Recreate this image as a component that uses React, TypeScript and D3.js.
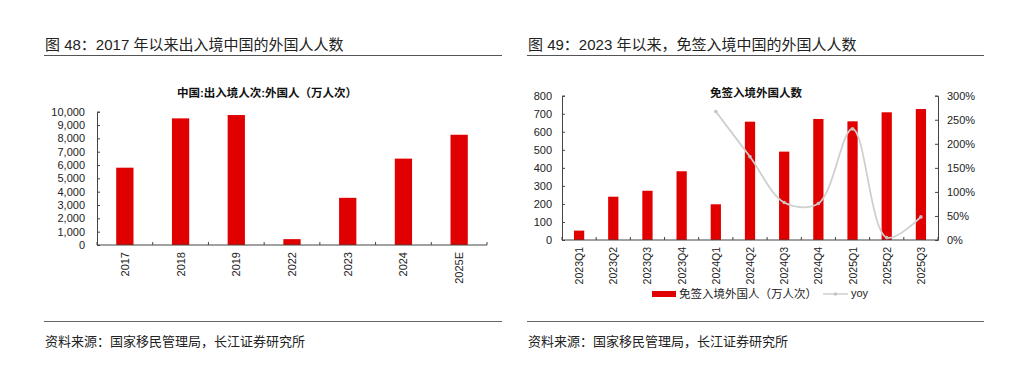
import React, { useEffect, useRef } from 'react';
import * as d3 from 'd3';

// left chart: yearly foreign entries/exits (10k person-times)
const yearCats = ['2017', '2018', '2019', '2022', '2023', '2024', '2025E'];
const yearValues = [5800, 9500, 9750, 440, 3540, 6480, 8270];
const leftTicks = [0, 1000, 2000, 3000, 4000, 5000, 6000, 7000, 8000, 9000, 10000];

// right chart: visa-free entries by quarter + yoy
const quarterCats = ['2023Q1', '2023Q2', '2023Q3', '2023Q4', '2024Q1', '2024Q2', '2024Q3', '2024Q4', '2025Q1', '2025Q2', '2025Q3'];
const quarterValues = [52, 240, 273, 381, 198, 656, 490, 671, 658, 708, 726];
const yoyValues = [null, null, null, null, 2.67, 1.73, 0.78, 0.76, 2.31, 0.05, 0.48];
const rightTicks = [0, 100, 200, 300, 400, 500, 600, 700, 800];
const pctTicks = [0, 0.5, 1, 1.5, 2, 2.5, 3];

const FONT = '"Liberation Sans", Arial, "Noto Sans CJK SC", sans-serif';
const RED = '#e00000';
const TEXT = '#222';

function App() {
  const ref = useRef<SVGSVGElement>(null);

  useEffect(() => {
    const svg = d3.select(ref.current);
    svg.selectAll('*').remove();
    svg.style('font-family', FONT);

    // ---- headers / footers for both panels
    const panels = [
      { x0: 44, x1: 502, title: '图 48：2017 年以来出入境中国的外国人人数' },
      { x0: 527, x1: 984, title: '图 49：2023 年以来，免签入境中国的外国人人数' },
    ];
    panels.forEach(p => {
      svg.append('text').attr('x', p.x0 + 1).attr('y', 50)
        .attr('font-size', 15).attr('fill', TEXT).text(p.title);
      svg.append('line').attr('x1', p.x0).attr('x2', p.x1).attr('y1', 55.5).attr('y2', 55.5)
        .attr('stroke', '#555').attr('stroke-width', 1.2);
      svg.append('line').attr('x1', p.x0).attr('x2', p.x1).attr('y1', 321.5).attr('y2', 321.5)
        .attr('stroke', '#666').attr('stroke-width', 1);
      svg.append('text').attr('x', p.x0 + 1).attr('y', 346)
        .attr('font-size', 13).attr('fill', TEXT).text('资料来源：国家移民管理局，长江证券研究所');
    });

    // ---- left chart
    {
      const x = d3.scaleBand().domain(yearCats).range([97, 487]).paddingInner(0.69).paddingOuter(0.345);
      const y = d3.scaleLinear().domain([0, 10000]).range([245, 111.7]);
      const g = svg.append('g');

      g.append('text').attr('x', 267).attr('y', 97).attr('text-anchor', 'middle')
        .attr('font-size', 11.5).attr('font-weight', 'bold').attr('fill', '#111')
        .text('中国:出入境人次:外国人（万人次）');

      g.selectAll('rect.bar').data(yearValues).enter().append('rect')
        .attr('x', (d, i) => x(yearCats[i])!)
        .attr('y', d => y(d))
        .attr('width', x.bandwidth())
        .attr('height', d => y(0) - y(d))
        .attr('fill', RED);

      const ya = g.append('g').attr('transform', 'translate(97,0)')
        .call(d3.axisRight(y).tickValues(leftTicks).tickSize(3).tickFormat(d3.format(',')));
      ya.selectAll('text').attr('x', -12).attr('text-anchor', 'end')
        .attr('font-size', 11).attr('fill', TEXT).attr('font-family', FONT);
      ya.selectAll('line,path').attr('stroke', '#444');

      // x axis line with ticks at band boundaries pointing up
      const step = x.step();
      g.append('line').attr('x1', 97).attr('x2', 487).attr('y1', 245).attr('y2', 245).attr('stroke', '#444');
      d3.range(yearCats.length + 1).forEach(i => {
        const tx = 97 + i * step;
        g.append('line').attr('x1', tx).attr('x2', tx).attr('y1', 245).attr('y2', 242).attr('stroke', '#444');
      });
      yearCats.forEach(c => {
        const cx = x(c)! + x.bandwidth() / 2;
        g.append('text').attr('transform', `translate(${cx + 4},252) rotate(-90)`)
          .attr('text-anchor', 'end').attr('font-size', 11).attr('fill', TEXT).text(c);
      });
    }

    // ---- right chart
    {
      const L = 562, R = 938;
      const x = d3.scaleBand().domain(quarterCats).range([L, R]).paddingInner(0.7).paddingOuter(0.35);
      const y = d3.scaleLinear().domain([0, 800]).range([240, 95.7]);
      const y2 = d3.scaleLinear().domain([0, 3]).range([240, 95.7]);
      const g = svg.append('g');

      g.append('text').attr('x', 756).attr('y', 97).attr('text-anchor', 'middle')
        .attr('font-size', 11.5).attr('font-weight', 'bold').attr('fill', '#111')
        .text('免签入境外国人数');

      g.selectAll('rect.bar').data(quarterValues).enter().append('rect')
        .attr('x', (d, i) => x(quarterCats[i])!)
        .attr('y', d => y(d))
        .attr('width', x.bandwidth())
        .attr('height', d => y(0) - y(d))
        .attr('fill', RED);

      const ya = g.append('g').attr('transform', `translate(${L},0)`)
        .call(d3.axisRight(y).tickValues(rightTicks).tickSize(3));
      ya.selectAll('text').attr('x', -10).attr('text-anchor', 'end')
        .attr('font-size', 11).attr('fill', TEXT).attr('font-family', FONT);
      ya.selectAll('line,path').attr('stroke', '#444');

      const yb = g.append('g').attr('transform', `translate(${R},0)`)
        .call(d3.axisLeft(y2).tickValues(pctTicks).tickSize(3).tickFormat(d3.format('.0%')));
      yb.selectAll('text').attr('x', 9).attr('text-anchor', 'start')
        .attr('font-size', 11).attr('fill', TEXT).attr('font-family', FONT);
      yb.selectAll('line,path').attr('stroke', '#444');

      const step = x.step();
      g.append('line').attr('x1', L).attr('x2', R).attr('y1', 240).attr('y2', 240).attr('stroke', '#444');
      d3.range(quarterCats.length + 1).forEach(i => {
        const tx = L + i * step;
        g.append('line').attr('x1', tx).attr('x2', tx).attr('y1', 240).attr('y2', 237).attr('stroke', '#444');
      });
      quarterCats.forEach(c => {
        const cx = x(c)! + x.bandwidth() / 2;
        g.append('text').attr('transform', `translate(${cx + 4},247) rotate(-90)`)
          .attr('text-anchor', 'end').attr('font-size', 10.5).attr('fill', TEXT).text(c);
      });

      // yoy smoothed line
      const pts = yoyValues
        .map((v, i) => ({ v, c: quarterCats[i] }))
        .filter(d => d.v !== null) as { v: number; c: string }[];
      const line = d3.line<{ v: number; c: string }>()
        .x(d => x(d.c)! + x.bandwidth() / 2)
        .y(d => y2(d.v))
        .curve(d3.curveCatmullRom.alpha(0.5));
      g.append('path').datum(pts).attr('d', line).attr('fill', 'none')
        .attr('stroke', '#cfcfcf').attr('stroke-width', 1.8);
      g.selectAll('circle.pt').data(pts).enter().append('circle')
        .attr('cx', d => x(d.c)! + x.bandwidth() / 2)
        .attr('cy', d => y2(d.v))
        .attr('r', 1.8).attr('fill', '#c4c4c4');

      // legend
      const lg = g.append('g');
      lg.append('rect').attr('x', 652).attr('y', 291).attr('width', 24).attr('height', 6).attr('fill', RED);
      lg.append('text').attr('x', 679).attr('y', 298).attr('font-size', 11.5).attr('fill', TEXT)
        .text('免签入境外国人（万人次）');
      lg.append('line').attr('x1', 823).attr('x2', 848).attr('y1', 294).attr('y2', 294)
        .attr('stroke', '#cfcfcf').attr('stroke-width', 1.5);
      lg.append('circle').attr('cx', 835.5).attr('cy', 294).attr('r', 1.8).attr('fill', '#c4c4c4');
      lg.append('text').attr('x', 851).attr('y', 297).attr('font-size', 11).attr('fill', TEXT).text('yoy');
    }
  }, []);

  return (
    <svg
      ref={ref}
      width={1024}
      height={373}
      style={{ position: 'absolute', left: 0, top: 0, background: '#fff' }}
    />
  );
}

export default App;
